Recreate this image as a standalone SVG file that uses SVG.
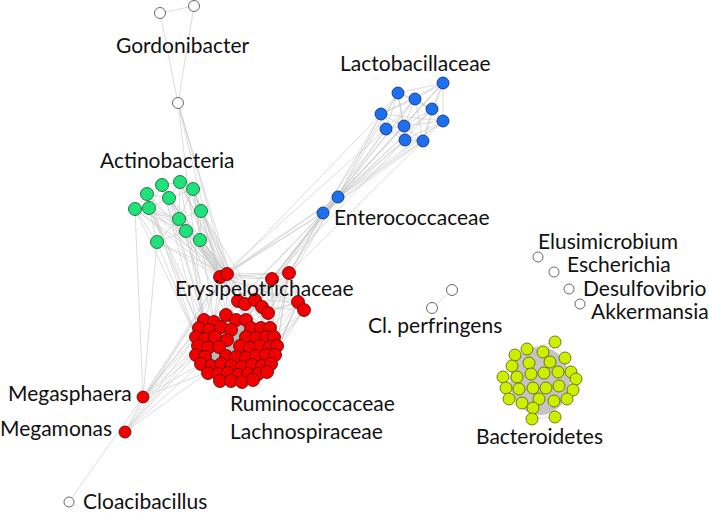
<svg xmlns="http://www.w3.org/2000/svg" width="709" height="513" viewBox="0 0 709 513">
<style>
.e{fill:none;stroke:#c4c4c4;stroke-width:0.6}
.w{fill:#fff;stroke:#444;stroke-width:0.8}
.r{fill:#f20000;stroke:#5a0000;stroke-width:0.8}
.b{fill:#1e6ef0;stroke:#0a2a6a;stroke-width:0.8}
.g{fill:#1fe37a;stroke:#0a5a2a;stroke-width:0.8}
.y{fill:#ccef00;stroke:#556000;stroke-width:0.8}
.t{font-family:Lato,"Liberation Sans",sans-serif;font-size:21px;fill:#111}
</style>
<rect width="709" height="513" fill="#fff"/>
<g id="connectors">
<ellipse cx="236" cy="349" rx="38" ry="30" fill="#b9b9b9"/>
<ellipse cx="540" cy="381" rx="30" ry="34" fill="#c4c4c4"/>
<path class="e" d="M160 13L194 6M160 13L178 103M194 6L178 103M178 103L220 277M178 103L227 274M178 103L238 301M178 103L204 320
M180 182L162 185M180 182L193 189M180 182L169 198M180 182L201 211M162 185L147 194M162 185L169 198M162 185L149 208M193 189L169 198M193 189L201 211M193 189L179 219M147 194L135 209M147 194L149 208M169 198L149 208M169 198L179 219M135 209L149 208M135 209L157 242M149 208L157 242M149 208L179 219M201 211L179 219M201 211L200 240M179 219L186 231M186 231L200 240M186 231L157 242M157 242L179 219M147 194L169 198M135 209L186 231M162 185L179 219M180 182L179 219M193 189L200 240M149 208L186 231M135 209L179 219
M180 182L220 277M180 182L227 274M180 182L238 301M180 182L204 320
M162 185L220 277M162 185L227 274M162 185L204 320M162 185L199 328
M193 189L220 277M193 189L227 274M193 189L245 304M193 189L214 320
M147 194L220 277M147 194L227 274M147 194L199 328M147 194L196 337
M169 198L220 277M169 198L227 274M169 198L238 301M169 198L204 320
M135 209L220 277M135 209L227 274M135 209L196 337M135 209L143 397
M149 208L220 277M149 208L227 274M149 208L199 328M149 208L204 320
M201 211L220 277M201 211L227 274M201 211L245 304M201 211L255 300
M179 219L220 277M179 219L227 274M179 219L214 320M179 219L238 301
M186 231L220 277M186 231L227 274M186 231L204 320M186 231L226 315
M200 240L220 277M200 240L227 274M200 240L238 301M200 240L255 300
M157 242L220 277M157 242L227 274M157 242L196 337M157 242L143 397
M443 83L398 93M443 83L415 99M443 83L432 109M443 83L443 121M443 83L381 114M443 83L404 126M443 83L423 141
M398 93L415 99M398 93L381 114M398 93L386 129M398 93L404 126M398 93L432 109M398 93L405 140
M415 99L432 109M415 99L381 114M415 99L404 126M415 99L443 121M415 99L423 141M415 99L386 129
M432 109L443 121M432 109L404 126M432 109L423 141M432 109L405 140
M381 114L386 129M381 114L404 126M381 114L405 140M381 114L443 121
M443 121L404 126M443 121L423 141M443 121L405 140
M386 129L404 126M386 129L405 140M386 129L423 141M404 126L405 140M404 126L423 141M405 140L423 141
M443 83L338 197M398 93L338 197M415 99L338 197M432 109L338 197M381 114L338 197M443 121L338 197M386 129L338 197M404 126L338 197M405 140L338 197M423 141L338 197
M443 83L323 213M398 93L323 213M415 99L323 213M432 109L323 213M381 114L323 213M443 121L323 213M386 129L323 213M404 126L323 213M405 140L323 213M423 141L323 213
M381 114L227 274M386 129L220 277M405 140L272 279M423 141L289 273
M338 197L323 213M338 197L220 277M338 197L227 274M338 197L272 279M338 197L289 273M338 197L238 301M338 197L255 300M338 197L268 313M338 197L246 320
M323 213L220 277M323 213L227 274M323 213L272 279M323 213L289 273M323 213L238 301M323 213L255 300M323 213L268 313M323 213L246 320
M220 277L227 274M220 277L272 279M220 277L289 273M227 274L272 279M227 274L289 273M272 279L289 273M272 279L298 302M289 273L298 302M289 273L304 310M298 302L304 310M272 279L304 310M220 277L298 302M227 274L304 310
M220 277L204 320M220 277L214 320M220 277L226 315M220 277L236 320M220 277L246 320M220 277L261 328M220 277L270 337
M227 274L214 320M227 274L226 315M227 274L246 320M227 274L270 328M227 274L274 337
M272 279L226 315M272 279L236 320M272 279L246 320M272 279L261 328M272 279L270 328M272 279L274 337M272 279L277 346
M289 273L236 320M289 273L251 328M289 273L270 328M289 273L274 337M289 273L277 346M289 273L275 355
M298 302L270 328M298 302L274 337M298 302L277 346M298 302L275 355M298 302L271 364M298 302L236 320
M304 310L274 337M304 310L277 346M304 310L275 355M304 310L266 355
M238 301L245 304M245 304L255 300M255 300L262 307M262 307L268 313M238 301L255 300M245 304L262 307M255 300L268 313M238 301L272 279M245 304L289 273M255 300L298 302M262 307L304 310M268 313L298 302
M238 301L204 320M238 301L226 315M245 304L236 320M255 300L246 320M262 307L261 328M268 313L270 337M245 304L219 337M255 300L240 346
M143 397L196 337M143 397L198 346M143 397L196 355M143 397L201 364M143 397L204 320M143 397L199 328M143 397L220 277M143 397L227 274M143 397L208 372
M125 432L196 355M125 432L201 364M125 432L208 372M125 432L198 346M125 432L220 277M125 432L196 337M125 432L143 397
M69 502L143 397
M452 290L432 308
M555 342L527 349M555 342L543 352M555 342L565 358M555 342L550 362M555 342L529 363M515 355L503 377M515 355L550 362M527 349L558 372M543 352L512 366M565 358L576 379M565 358L531 374M503 377L573 390M512 366L571 372M506 388L576 379M509 399L567 399M522 403L559 386M532 419L555 417M532 419L546 388M532 419L519 389M555 417L539 399M555 417L531 374M555 417L517 377M533 408L565 358M509 399L543 352M573 390L515 355"/>
</g>
<g id="gordonibacter">
<circle class="w" cx="160" cy="13" r="5.5"/><circle class="w" cx="194" cy="6" r="5.5"/><circle class="w" cx="178" cy="103" r="5.5"/>
</g>
<g id="lactobacillaceae">
<circle class="b" cx="443" cy="83" r="6"/><circle class="b" cx="398" cy="93" r="6"/><circle class="b" cx="415" cy="99" r="6"/><circle class="b" cx="432" cy="109" r="6"/><circle class="b" cx="381" cy="114" r="6"/><circle class="b" cx="443" cy="121" r="6"/><circle class="b" cx="386" cy="129" r="6"/><circle class="b" cx="404" cy="126" r="6"/><circle class="b" cx="405" cy="140" r="6"/><circle class="b" cx="423" cy="141" r="6"/>
</g>
<g id="enterococcaceae">
<circle class="b" cx="338" cy="197" r="6"/><circle class="b" cx="323" cy="213" r="6"/>
</g>
<g id="actinobacteria">
<circle class="g" cx="180" cy="182" r="6.5"/><circle class="g" cx="162" cy="185" r="6.5"/><circle class="g" cx="193" cy="189" r="6.5"/><circle class="g" cx="147" cy="194" r="6.5"/><circle class="g" cx="169" cy="198" r="6.5"/><circle class="g" cx="135" cy="209" r="6.5"/><circle class="g" cx="149" cy="208" r="6.5"/><circle class="g" cx="201" cy="211" r="6.5"/><circle class="g" cx="179" cy="219" r="6.5"/><circle class="g" cx="186" cy="231" r="6.5"/><circle class="g" cx="200" cy="240" r="6.5"/><circle class="g" cx="157" cy="242" r="6.5"/>
</g>
<g id="erysipelotrichaceae">
<circle class="r" cx="220" cy="277" r="6.5"/><circle class="r" cx="227" cy="274" r="6.5"/><circle class="r" cx="272" cy="279" r="6.5"/><circle class="r" cx="289" cy="273" r="6.5"/><circle class="r" cx="298" cy="302" r="6.5"/><circle class="r" cx="304" cy="310" r="6.5"/><circle class="r" cx="238" cy="301" r="6.5"/><circle class="r" cx="245" cy="304" r="6.5"/><circle class="r" cx="255" cy="300" r="6.5"/><circle class="r" cx="262" cy="307" r="6.5"/><circle class="r" cx="268" cy="313" r="6.5"/>
</g>
<g id="ruminococcaceae-lachnospiraceae">
<circle class="r" cx="204" cy="320" r="6.5"/><circle class="r" cx="214" cy="322" r="6.5"/><circle class="r" cx="226" cy="315" r="6.5"/><circle class="r" cx="236" cy="320" r="6.5"/><circle class="r" cx="246" cy="320" r="6.5"/>
<circle class="r" cx="199" cy="328" r="6.5"/><circle class="r" cx="209" cy="330" r="6.5"/><circle class="r" cx="221" cy="327" r="6.5"/><circle class="r" cx="231" cy="330" r="6.5"/><circle class="r" cx="251" cy="328" r="6.5"/><circle class="r" cx="261" cy="328" r="6.5"/><circle class="r" cx="270" cy="328" r="6.5"/>
<circle class="r" cx="196" cy="337" r="6.5"/><circle class="r" cx="205" cy="339" r="6.5"/><circle class="r" cx="215" cy="337" r="6.5"/><circle class="r" cx="227" cy="340" r="6.5"/><circle class="r" cx="246" cy="337" r="6.5"/><circle class="r" cx="256" cy="338" r="6.5"/><circle class="r" cx="266" cy="337" r="6.5"/><circle class="r" cx="274" cy="337" r="6.5"/>
<circle class="r" cx="198" cy="346" r="6.5"/><circle class="r" cx="208" cy="348" r="6.5"/><circle class="r" cx="219" cy="347" r="6.5"/><circle class="r" cx="240" cy="346" r="6.5"/><circle class="r" cx="250" cy="348" r="6.5"/><circle class="r" cx="260" cy="346" r="6.5"/><circle class="r" cx="270" cy="347" r="6.5"/><circle class="r" cx="277" cy="346" r="6.5"/>
<circle class="r" cx="196" cy="355" r="6.5"/><circle class="r" cx="205" cy="357" r="6.5"/><circle class="r" cx="226" cy="356" r="6.5"/><circle class="r" cx="236" cy="357" r="6.5"/><circle class="r" cx="246" cy="358" r="6.5"/><circle class="r" cx="256" cy="356" r="6.5"/><circle class="r" cx="266" cy="355" r="6.5"/><circle class="r" cx="275" cy="355" r="6.5"/>
<circle class="r" cx="201" cy="364" r="6.5"/><circle class="r" cx="211" cy="366" r="6.5"/><circle class="r" cx="221" cy="364" r="6.5"/><circle class="r" cx="231" cy="366" r="6.5"/><circle class="r" cx="242" cy="367" r="6.5"/><circle class="r" cx="252" cy="365" r="6.5"/><circle class="r" cx="262" cy="366" r="6.5"/><circle class="r" cx="271" cy="364" r="6.5"/>
<circle class="r" cx="208" cy="373" r="6.5"/><circle class="r" cx="218" cy="374" r="6.5"/><circle class="r" cx="228" cy="373" r="6.5"/><circle class="r" cx="238" cy="375" r="6.5"/><circle class="r" cx="248" cy="374" r="6.5"/><circle class="r" cx="258" cy="374" r="6.5"/><circle class="r" cx="267" cy="372" r="6.5"/>
<circle class="r" cx="220" cy="381" r="6.5"/><circle class="r" cx="231" cy="381" r="6.5"/><circle class="r" cx="242" cy="382" r="6.5"/><circle class="r" cx="253" cy="380" r="6.5"/>
</g>
<g id="megasphaera"><circle class="r" cx="143" cy="397" r="6"/></g>
<g id="megamonas"><circle class="r" cx="125" cy="432" r="6"/></g>
<g id="cloacibacillus"><circle class="w" cx="69" cy="502" r="5"/></g>
<g id="cl-perfringens"><circle class="w" cx="452" cy="290" r="5.5"/><circle class="w" cx="432" cy="308" r="5.5"/></g>
<g id="elusimicrobium"><circle class="w" cx="538" cy="257" r="5"/></g>
<g id="escherichia"><circle class="w" cx="554" cy="272" r="5"/></g>
<g id="desulfovibrio"><circle class="w" cx="569" cy="289" r="5"/></g>
<g id="akkermansia"><circle class="w" cx="580" cy="304" r="5"/></g>
<g id="bacteroidetes">
<circle class="y" cx="555" cy="342" r="6"/><circle class="y" cx="515" cy="355" r="6"/><circle class="y" cx="527" cy="349" r="6"/><circle class="y" cx="543" cy="352" r="6"/><circle class="y" cx="565" cy="358" r="6"/><circle class="y" cx="512" cy="366" r="6"/><circle class="y" cx="529" cy="363" r="6"/><circle class="y" cx="550" cy="362" r="6"/><circle class="y" cx="503" cy="377" r="6"/><circle class="y" cx="517" cy="377" r="6"/><circle class="y" cx="531" cy="374" r="6"/><circle class="y" cx="544" cy="373" r="6"/><circle class="y" cx="558" cy="372" r="6"/><circle class="y" cx="571" cy="372" r="6"/><circle class="y" cx="576" cy="379" r="6"/><circle class="y" cx="506" cy="388" r="6"/><circle class="y" cx="519" cy="389" r="6"/><circle class="y" cx="533" cy="388" r="6"/><circle class="y" cx="546" cy="388" r="6"/><circle class="y" cx="559" cy="386" r="6"/><circle class="y" cx="573" cy="390" r="6"/><circle class="y" cx="509" cy="399" r="6"/><circle class="y" cx="522" cy="403" r="6"/><circle class="y" cx="539" cy="399" r="6"/><circle class="y" cx="554" cy="401" r="6"/><circle class="y" cx="567" cy="399" r="6"/><circle class="y" cx="533" cy="408" r="6"/><circle class="y" cx="532" cy="419" r="6"/><circle class="y" cx="555" cy="417" r="6"/>
</g>
<g id="labels">
<text class="t" x="116" y="53">Gordonibacter</text>
<text class="t" x="340" y="71">Lactobacillaceae</text>
<text class="t" x="100" y="168">Actinobacteria</text>
<text class="t" x="334" y="225">Enterococcaceae</text>
<text class="t" x="175" y="296">Erysipelotrichaceae</text>
<text class="t" x="538" y="249">Elusimicrobium</text>
<text class="t" x="567" y="272">Escherichia</text>
<text class="t" x="583" y="296">Desulfovibrio</text>
<text class="t" x="591" y="319">Akkermansia</text>
<text class="t" x="368" y="333">Cl. perfringens</text>
<text class="t" x="8" y="401">Megasphaera</text>
<text class="t" x="0" y="436">Megamonas</text>
<text class="t" x="230" y="411">Ruminococcaceae</text>
<text class="t" x="230" y="439">Lachnospiraceae</text>
<text class="t" x="476" y="444">Bacteroidetes</text>
<text class="t" x="83" y="509">Cloacibacillus</text>
</g>
</svg>
